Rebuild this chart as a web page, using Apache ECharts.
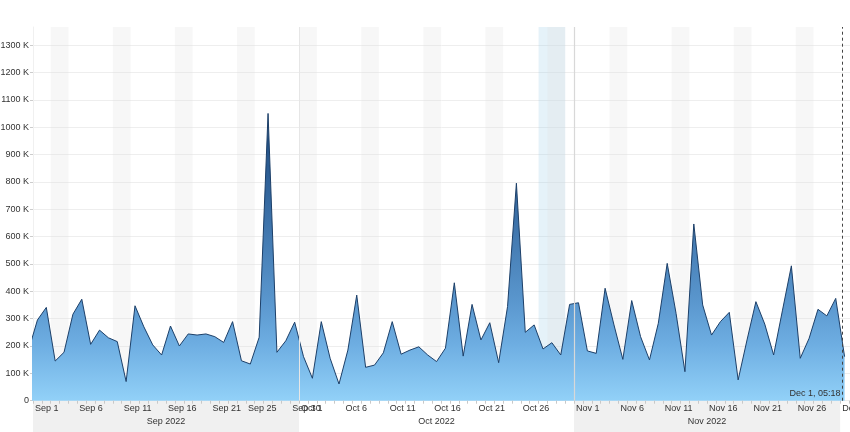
<!DOCTYPE html>
<html><head><meta charset="utf-8">
<script src="https://cdn.jsdelivr.net/npm/echarts@6/dist/echarts.min.js"></script>
<style>html,body{margin:0;padding:0;background:#fff}#c{width:850px;height:432px}</style>
</head><body><div id="c"></div>
<script>
// ---- data ----
const startDate = '2022-08-31'; // one point per day (noon), first one is just off the left edge
const visitsK = [185,
  295, 341, 145, 177, 316, 371, 206, 258, 230, 216,
  70, 347, 270, 204, 167, 273, 200, 244, 240, 244,
  234, 213, 289, 146, 134, 232, 1050, 177, 219, 287,
  161, 82, 289, 155, 61, 185, 386, 122, 130, 175,
  289, 170, 185, 197, 167, 143, 192, 431, 163, 352,
  222, 285, 139, 344, 795, 250, 277, 189, 212, 167,
  352, 358, 182, 173, 411, 277, 151, 366, 234, 149,
  283, 502, 319, 106, 646, 350, 240, 289, 323, 76,
  222, 362, 280, 167, 331, 493, 155, 228, 334, 310,
  374, 161];
const yTickK = [0,100,200,300,400,500,600,700,800,900,1000,1100,1200,1300];
const xTickDates = ['2022-09-01','2022-09-06','2022-09-11','2022-09-16','2022-09-21','2022-09-25','2022-09-30',
  '2022-10-01','2022-10-06','2022-10-11','2022-10-16','2022-10-21','2022-10-26',
  '2022-11-01','2022-11-06','2022-11-11','2022-11-16','2022-11-21','2022-11-26','2022-12-01'];
const xTickLabels = ['Sep 1','Sep 6','Sep 11','Sep 16','Sep 21','Sep 25','Sep 30',
  'Oct 1','Oct 6','Oct 11','Oct 16','Oct 21','Oct 26',
  'Nov 1','Nov 6','Nov 11','Nov 16','Nov 21','Nov 26','Dec 1'];
const monthStarts = ['2022-09-01','2022-10-01','2022-11-01','2022-12-01'];
const monthLabels = ['Sep 2022','Oct 2022','Nov 2022'];
const weekendStarts = ['2022-09-03','2022-09-10','2022-09-17','2022-09-24','2022-10-01','2022-10-08','2022-10-15',
  '2022-10-22','2022-10-29','2022-11-05','2022-11-12','2022-11-19','2022-11-26'];
const highlightRange = ['2022-10-28','2022-10-31'];
const cursorTime = '2022-12-01T05:18:00Z';
const cursorLabel = 'Dec 1, 05:18';

// ---- helpers ----
const DAY = 86400000;
const t = d => Date.parse(d.length === 10 ? d + 'T00:00:00Z' : d);
const t0 = t(startDate);
const seriesData = visitsK.map((v, i) => [t0 + i * DAY + DAY / 2, v * 1000]);
const xMin = t('2022-09-01');
const xMax = xMin + 92.11 * DAY;
const labelMap = {};
xTickDates.forEach((d, i) => { labelMap[t(d)] = xTickLabels[i]; });
const dailyTicks = [];
for (let x = xMin; x <= xMax; x += DAY) dailyTicks.push(x);
const FONT = '"Liberation Sans", Arial, sans-serif';

const chart = echarts.init(document.getElementById('c'), null, {renderer: 'canvas'});
const grad = new echarts.graphic.LinearGradient(0, 27, 0, 401, [
  {offset: 0, color: '#0c2f5a'},
  {offset: 0.23, color: '#1f4b7d'},
  {offset: 0.41, color: '#2f6097'},
  {offset: 0.74, color: '#5b98cf'},
  {offset: 0.85, color: '#6eaee2'},
  {offset: 1, color: '#92d1f8'}
], true);

chart.setOption({
  animation: false,
  backgroundColor: '#fff',
  textStyle: {fontFamily: FONT},
  grid: [
    {left: 33, right: 0, top: 27, bottom: 31.3, outerBoundsMode: 'none', containLabel: false},
    {left: 33, right: 0, top: 401, height: 31, outerBoundsMode: 'none', containLabel: false}
  ],
  xAxis: [{
    type: 'value', min: xMin, max: xMax, gridIndex: 0, z: 10,
    axisLine: {show: false},
    axisTick: {show: true, customValues: dailyTicks, length: 3, lineStyle: {color: '#c8c8c8'}},
    axisLabel: {customValues: xTickDates.map(t), formatter: v => labelMap[v] || '',
      align: 'left', padding: [0, 0, 0, 2], margin: 3, fontSize: 9, color: '#333', fontFamily: FONT,
      hideOverlap: false},
    splitLine: {show: false}
  }, {
    type: 'value', min: xMin, max: xMax, gridIndex: 1, show: false
  }],
  yAxis: [{
    type: 'value', min: 0, max: 1366000, gridIndex: 0,
    axisLine: {show: true, lineStyle: {color: '#f0f0f0'}},
    axisTick: {show: true, customValues: yTickK.map(v => v * 1000), length: 3, lineStyle: {color: '#ccc'}},
    axisLabel: {customValues: yTickK.map(v => v * 1000), formatter: v => v === 0 ? '0' : (v / 1000) + ' K',
      fontSize: 9, color: '#333', margin: 4, fontFamily: FONT},
    splitLine: {show: true, lineStyle: {color: '#eeeeee', width: 1}}
  }, {
    type: 'value', min: 0, max: 1, gridIndex: 1, show: false
  }],
  series: [{
    type: 'line', data: seriesData, xAxisIndex: 0, yAxisIndex: 0, z: 2,
    symbol: 'none', smooth: false,
    lineStyle: {color: '#1c3f68', width: 1},
    areaStyle: {color: grad, opacity: 1},
    markPoint: {
      silent: true, symbol: 'circle', symbolSize: 1, itemStyle: {color: 'rgba(0,0,0,0)'},
      data: [{coord: [t(cursorTime), 0],
        label: {show: true, position: 'left', distance: 1, offset: [0, -7], formatter: cursorLabel,
          color: '#333', fontSize: 9, fontFamily: FONT}}]
    }
  }, {
    type: 'line', data: [], xAxisIndex: 0, yAxisIndex: 0, z: 4, silent: true,
    markArea: {
      silent: true,
      data: [[{xAxis: t(highlightRange[0]), itemStyle: {color: 'rgba(150,205,230,0.25)'}}, {xAxis: t(highlightRange[1])}]]
        .concat(weekendStarts.map(s => [{xAxis: t(s), itemStyle: {color: 'rgba(225,225,225,0.28)'}}, {xAxis: t(s) + 2 * DAY}]))
    },
    markLine: {
      silent: true, symbol: 'none', label: {show: false},
      data: [
        {xAxis: t(monthStarts[1]), lineStyle: {color: '#e6e6e6', width: 1, type: 'solid'}},
        {xAxis: t(monthStarts[2]), lineStyle: {color: '#d8d8d8', width: 1.2, type: 'solid'}},
        {xAxis: t(cursorTime), lineStyle: {color: '#444', width: 1, type: [3, 3]}}
      ]
    }
  }, {
    type: 'line', data: [], xAxisIndex: 1, yAxisIndex: 1, z: 1, silent: true,
    markArea: {
      silent: true,
      label: {show: true, position: 'insideBottom', distance: 6, color: '#333', fontSize: 9, fontFamily: FONT},
      data: monthLabels.map((m, i) => [
        {name: m, xAxis: t(monthStarts[i]), itemStyle: {color: i % 2 === 0 ? '#f0f0f0' : 'rgba(255,255,255,0)'}},
        {xAxis: t(monthStarts[i + 1])}
      ])
    }
  }]
});
</script></body></html>
